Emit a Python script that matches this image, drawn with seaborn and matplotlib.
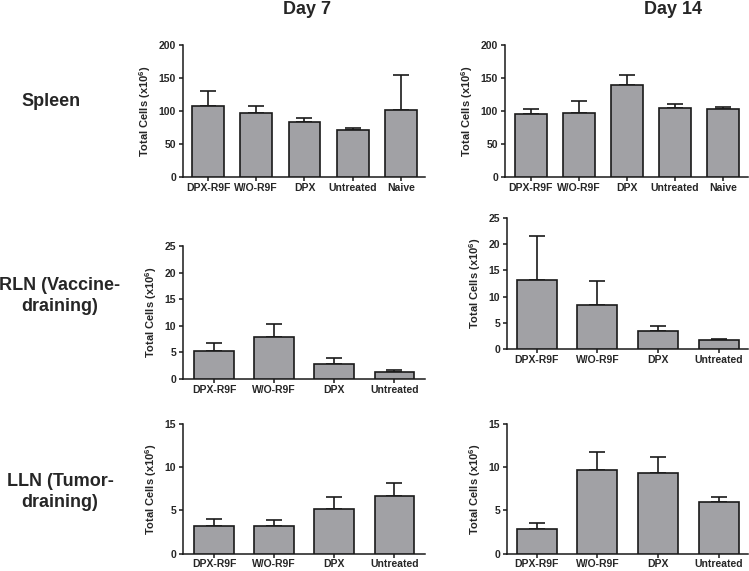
import matplotlib
matplotlib.use("Agg")
import matplotlib.pyplot as plt
import numpy as np
import pandas as pd
import seaborn as sns

groups5 = ["DPX-R9F", "W/O-R9F", "DPX", "Untreated", "Naive"]
groups4 = ["DPX-R9F", "W/O-R9F", "DPX", "Untreated"]

spleen_d7_mean = [107, 96.5, 83, 71.5, 101]
spleen_d7_err = [23, 11, 6, 2.5, 53]
spleen_d14_mean = [95.5, 97, 140, 104.5, 103.5]
spleen_d14_err = [7, 18.5, 14.5, 6.5, 2]
rln_d7_mean = [5.3, 7.8, 2.8, 1.3]
rln_d7_err = [1.5, 2.5, 1.1, 0.35]
rln_d14_mean = [13.1, 8.4, 3.5, 1.65]
rln_d14_err = [8.4, 4.5, 0.95, 0.2]
lln_d7_mean = [3.2, 3.2, 5.2, 6.7]
lln_d7_err = [0.8, 0.7, 1.4, 1.5]
lln_d14_mean = [2.9, 9.65, 9.3, 5.95]
lln_d14_err = [0.7, 2.05, 1.9, 0.6]

col_titles = ["Day 7", "Day 14"]
row_titles = ["Spleen", "RLN (Vaccine-\ndraining)", "LLN (Tumor-\ndraining)"]

sns.set_style("ticks")
plt.rcParams['font.family'] = ['Liberation Sans', 'DejaVu Sans']
plt.rcParams['font.weight'] = 'bold'
plt.rcParams['mathtext.fontset'] = 'custom'
plt.rcParams['mathtext.bf'] = 'Liberation Sans:bold'
plt.rcParams['mathtext.rm'] = 'Liberation Sans:bold'

fig = plt.figure(figsize=(7.49, 5.71), dpi=100)

panels = [
    # (rect, groups, mean, err, ymax, step, xlim)
    ([0.2443, 0.690, 0.3231, 0.2312], groups5, spleen_d7_mean, spleen_d7_err, 200, 50, (-0.52, 4.5)),
    ([0.6742, 0.690, 0.3244, 0.2312], groups5, spleen_d14_mean, spleen_d14_err, 200, 50, (-0.54, 4.52)),
    ([0.2443, 0.3363, 0.3231, 0.2329], groups4, rln_d7_mean, rln_d7_err, 25, 5, (-0.52, 3.51)),
    ([0.6769, 0.3888, 0.3218, 0.2294], groups4, rln_d14_mean, rln_d14_err, 25, 5, (-0.49, 3.48)),
    ([0.2443, 0.0300, 0.3231, 0.2280], groups4, lln_d7_mean, lln_d7_err, 15, 5, (-0.52, 3.51)),
    ([0.6769, 0.0300, 0.3218, 0.2280], groups4, lln_d14_mean, lln_d14_err, 15, 5, (-0.49, 3.48)),
]

for rect, groups, mean, err, ymax, step, xlim in panels:
    ax = fig.add_axes(rect)
    df = pd.DataFrame({"group": groups, "cells": mean})
    sns.barplot(data=df, x="group", y="cells", ax=ax, color="#a1a1a5", saturation=1,
                edgecolor="#1a1a1a", linewidth=1.2, width=0.66, errorbar=None, zorder=3)
    ax.errorbar(np.arange(len(groups)), mean, yerr=[np.zeros(len(err)), err], fmt="none",
                ecolor="#1a1a1a", elinewidth=1.2, capsize=6, capthick=1.2, zorder=2)
    ax.set_xlim(*xlim)
    ax.set_ylim(0, ymax)
    ax.set_yticks(np.arange(0, ymax + 1, step))
    ax.set_xlabel("")
    ax.set_ylabel(r"Total Cells (x10$^{\mathbf{6}}$)", fontsize=8, fontweight="bold", labelpad=4)
    ax.tick_params(axis="both", labelsize=7.5, width=1.1, length=3, pad=2, color="#1a1a1a")
    ax.tick_params(axis="x", pad=1)
    for lab in ax.get_xticklabels() + ax.get_yticklabels():
        lab.set_fontweight("bold")
    for s in ["left", "bottom"]:
        ax.spines[s].set_linewidth(1.1)
        ax.spines[s].set_color("#1a1a1a")
    sns.despine(ax=ax)

fig.text(307 / 749, 1 - 9 / 571, col_titles[0], ha="center", va="center", fontsize=13, fontweight="bold")
fig.text(673 / 749, 1 - 9 / 571, col_titles[1], ha="center", va="center", fontsize=13, fontweight="bold")
fig.text(51 / 749, 1 - 101 / 571, row_titles[0], ha="center", va="center", fontsize=13, fontweight="bold")
fig.text(60 / 749, 1 - 296 / 571, row_titles[1], ha="center", va="center", fontsize=13,
         fontweight="bold", linespacing=1.3)
fig.text(60 / 749, 1 - 492 / 571, row_titles[2], ha="center", va="center", fontsize=13,
         fontweight="bold", linespacing=1.3)

fig.savefig("out.png", dpi=100)
